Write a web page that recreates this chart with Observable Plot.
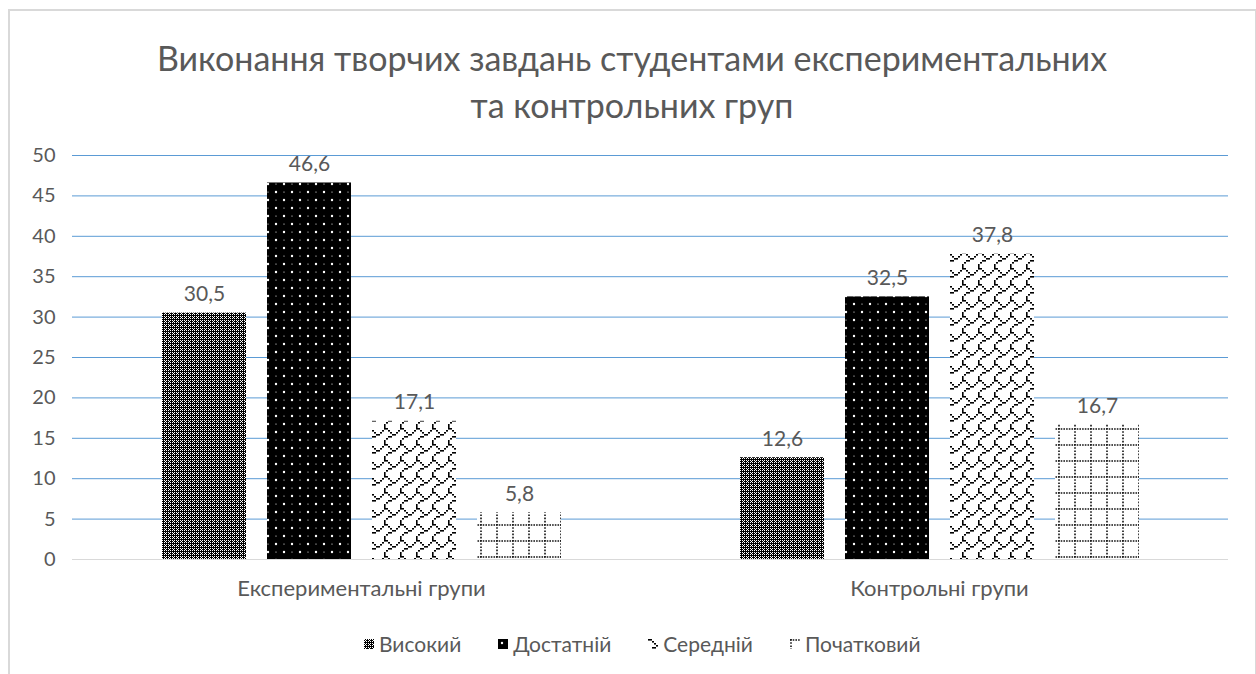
<!DOCTYPE html>
<html>
<head>
<meta charset="utf-8">
<script src="https://cdn.jsdelivr.net/npm/d3@7"></script>
<script src="https://cdn.jsdelivr.net/npm/@observablehq/plot@0.6"></script>
<style>
  html, body { margin: 0; padding: 0; background: #fff; overflow: hidden; }
  body { width: 1256px; height: 674px; position: relative; font-family: Lato, "Open Sans", sans-serif; color: #595959; }
  #frame { position: absolute; left: 8px; top: 9px; width: 1245px; height: 700px; border-top: 2px solid #d9d9d9; border-left: 2px solid #d9d9d9; border-right: 1px solid #d9d9d9; }
  #title { position: absolute; left: 8px; width: 1248px; top: 34px; text-align: center; font-size: 34px; line-height: 47px; color: #595959; }
  #chart { position: absolute; left: 0; top: 140px; }
  #legend { position: absolute; left: 364px; top: 630px; display: flex; gap: 37px; font-size: 21px; line-height: 28px; color: #595959; white-space: nowrap; }
  #legend .item { display: flex; align-items: center; gap: 5px; }
</style>
</head>
<body>
<div id="frame"></div>
<svg id="defs" width="0" height="0" style="position:absolute">
  <defs>
    <pattern id="p0" patternUnits="userSpaceOnUse" width="4" height="4">
      <rect width="4" height="4" fill="#fff"/>
      <g fill="#000">
        <rect x="0" y="3" width="4" height="1"/>
        <rect x="3" y="0" width="1" height="3"/>
        <rect x="1" y="0" width="1" height="1"/>
        <rect x="0" y="1" width="1" height="1"/>
        <rect x="2" y="1" width="1" height="1"/>
        <rect x="1" y="2" width="1" height="1"/>
      </g>
    </pattern>
    <pattern id="p1" patternUnits="userSpaceOnUse" width="16" height="16">
      <rect width="16" height="16" fill="#000"/>
      <circle cx="4" cy="4" r="1.2" fill="#fff"/>
      <circle cx="12" cy="12" r="1.2" fill="#fff"/>
      <circle cx="12" cy="4" r="0.6" fill="#fff"/>
      <circle cx="4" cy="12" r="0.6" fill="#fff"/>
    </pattern>
    <pattern id="p2" patternUnits="userSpaceOnUse" width="16" height="16">
      <rect width="16" height="16" fill="#fff"/>
      <g fill="#000">
        <rect x="0" y="0" width="4" height="1.6"/>
        <rect x="4" y="2" width="2" height="1.6"/><rect x="14" y="2" width="2" height="1.6"/>
        <rect x="6" y="4" width="2" height="1.6"/><rect x="12" y="4" width="2" height="1.6"/>
        <rect x="8" y="6" width="4" height="1.6"/>
        <rect x="4" y="8" width="4" height="1.6"/>
        <rect x="2" y="10" width="2" height="1.6"/>
        <rect x="0" y="12" width="1.6" height="4"/>
      </g>
    </pattern>
    <pattern id="p3" patternUnits="userSpaceOnUse" width="16" height="16">
      <rect width="16" height="16" fill="#fff"/>
      <line x1="0" y1="1" x2="16" y2="1" stroke="#111" stroke-width="1.6" stroke-dasharray="1.6,1.1"/>
      <line x1="1" y1="0" x2="1" y2="16" stroke="#111" stroke-width="1.6" stroke-dasharray="1.6,1.6"/>
    </pattern>
  </defs>
</svg>
<div id="title">Виконання творчих завдань студентами експериментальних<br>та контрольних груп</div>
<div id="chart"></div>
<div id="legend"></div>
<script>
const groups = ["Експериментальні групи", "Контрольні групи"];
const series = ["Високий", "Достатній", "Середній", "Початковий"];
const experimentalValues = [30.5, 46.6, 17.1, 5.8];
const controlValues = [12.6, 32.5, 37.8, 16.7];
const yTicks = [0, 5, 10, 15, 20, 25, 30, 35, 40, 45, 50];
const patterns = ["url(#p0)", "url(#p1)", "url(#p2)", "url(#p3)"];

const data = [];
[experimentalValues, controlValues].forEach((vals, gi) => {
  vals.forEach((v, si) => data.push({group: groups[gi], series: series[si], value: v}));
});

const fmt = v => String(v).replace(".", ",");

const chart = Plot.plot({
  width: 1256,
  height: 470,
  marginTop: 15,
  marginBottom: 51,
  marginLeft: 72,
  marginRight: 28,
  style: {fontFamily: "Lato, 'Open Sans', sans-serif", fontSize: "20px", color: "#595959", background: "transparent", overflow: "visible"},
  fx: {domain: groups, padding: 0, axis: null},
  x: {domain: series, paddingInner: 0.2, paddingOuter: 0.85, axis: null},
  y: {domain: [0, 50], axis: null},
  color: {domain: series, range: patterns},
  marks: [
    Plot.ruleY(yTicks.filter(d => d > 0), {stroke: "#5b9bd5", strokeWidth: 1}),
    Plot.ruleY([0], {stroke: "#d9d9d9", strokeWidth: 1}),
    Plot.axisY(yTicks, {tickSize: 0, tickPadding: 17, label: null, fontSize: 20, fill: "#595959"}),
    Plot.axisFx({tickSize: 0, tickPadding: 21, label: null, fontSize: 22, fill: "#595959", anchor: "bottom"}),
    Plot.barY(data, {fx: "group", x: "series", y: "value", fill: "series", inset: 0}),
    Plot.text(data, {fx: "group", x: "series", y: "value", text: d => fmt(d.value), dy: -12, lineAnchor: "bottom", fill: "#595959", fontSize: 21})
  ]
});
document.getElementById("chart").appendChild(chart);

const legend = document.getElementById("legend");
series.forEach((s, i) => {
  const item = document.createElement("div");
  item.className = "item";
  item.innerHTML = `<svg width="10" height="10"><rect width="10" height="10" fill="${patterns[i]}"/></svg><span>${s}</span>`;
  legend.appendChild(item);
});
</script>
</body>
</html>
